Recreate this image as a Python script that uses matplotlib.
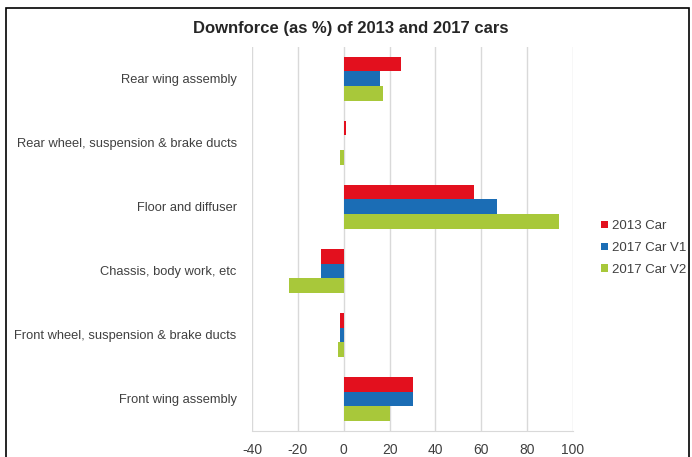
import matplotlib
matplotlib.use("Agg")
import matplotlib.pyplot as plt
import numpy as np
from matplotlib.patches import Rectangle

categories = ["Rear wing assembly", "Rear wheel, suspension & brake ducts",
              "Floor and diffuser", "Chassis, body work, etc",
              "Front wheel, suspension & brake ducts", "Front wing assembly"]
car_2013 = [25, 1, 57, -10, -1.5, 30]
car_2017_v1 = [16, 0, 67, -10, -1.5, 30]
car_2017_v2 = [17, -1.5, 94, -24, -2.5, 20]
series_names = ["2013 Car", "2017 Car V1", "2017 Car V2"]
colors = ["#E3101E", "#1B6DB5", "#A8C83A"]
xticks = [-40, -20, 0, 20, 40, 60, 80, 100]

plt.rcParams['font.family'] = ['Liberation Sans', 'DejaVu Sans']
plt.rcParams['axes.unicode_minus'] = False

fig = plt.figure(figsize=(6.92, 4.57), dpi=100)
ax = fig.add_axes([252/692, 1-431/457, (573-252)/692, (431-46.7)/457])

n = len(categories)
y = np.arange(n)  # top to bottom
h = 0.23
for i, (vals, name, c) in enumerate(zip([car_2013, car_2017_v1, car_2017_v2], series_names, colors)):
    ax.barh(y + (i - 1) * h, vals, height=h, color=c, label=name, zorder=3)

ax.set_ylim(n - 0.5, -0.5)
ax.set_xlim(-40, 100)
ax.set_xticks(xticks)
ax.set_yticks(y)
ax.set_yticklabels(categories)
ax.tick_params(axis='y', length=0, pad=11, labelsize=9.3, labelcolor='#404040')
ax.tick_params(axis='x', length=0, pad=9, labelsize=10, labelcolor='#404040')
ax.grid(axis='x', color='#d9d9d9', lw=1, zorder=0)
for s in ['top', 'right', 'left']:
    ax.spines[s].set_visible(False)
ax.spines['bottom'].set_color('#d9d9d9')

fig.text(351/692, 1-28/457, "Downforce (as %) of 2013 and 2017 cars",
         ha='center', va='center', fontsize=12, fontweight='bold', color='#262626')

leg = fig.legend(loc='center left', bbox_to_anchor=(596/692, 1-248/457), frameon=False,
                 fontsize=9.5, handlelength=0.5, handleheight=0.5, handletextpad=0.3,
                 labelspacing=0.75, borderaxespad=0)
for t in leg.get_texts():
    t.set_color('#404040')

fig.patches.append(Rectangle((6/692, -0.05), (689-6)/692, 1.05 - 8/457,
                             transform=fig.transFigure, fill=False, ec='black', lw=1.2))

fig.savefig("out.png", dpi=100)
